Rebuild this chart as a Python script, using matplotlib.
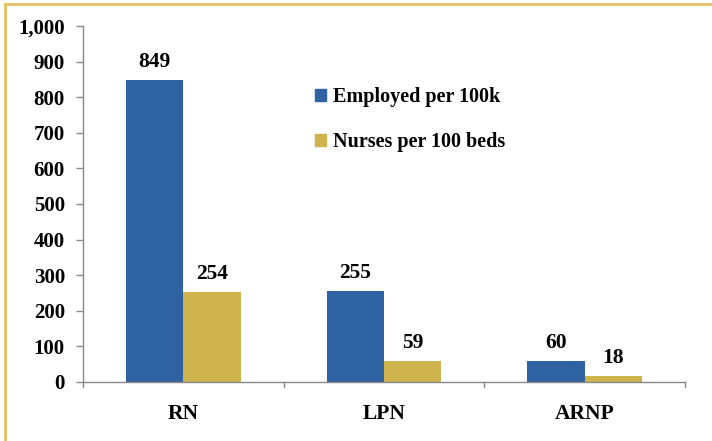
import matplotlib.pyplot as plt
from matplotlib.lines import Line2D
from matplotlib.patches import Patch
import numpy as np

categories = ['RN', 'LPN', 'ARNP']
employed = [849, 255, 60]
nurses_beds = [254, 59, 18]
series_names = ['Employed per 100k', 'Nurses per 100 beds']
yticks = [0, 100, 200, 300, 400, 500, 600, 700, 800, 900, 1000]

blue = '#2E62A3'
gold = '#CFB34C'

plt.rcParams['font.family'] = ['Liberation Serif', 'DejaVu Serif']
plt.rcParams['font.weight'] = 'bold'

fig = plt.figure(figsize=(7.12, 4.41), dpi=100)
ax = fig.add_axes([0.1166, 0.134, 0.8454, 0.807])

x = np.arange(len(categories))
w = 0.285
b1 = ax.bar(x - w / 2, employed, w, color=blue)
b2 = ax.bar(x + w / 2, nurses_beds, w, color=gold)

for bars, vals in [(b1, employed), (b2, nurses_beds)]:
    for r, v in zip(bars, vals):
        ax.text(r.get_x() + r.get_width() / 2, v + 22, str(v), ha='center', va='bottom',
                fontsize=15.5, fontweight='bold')

ax.set_xlim(-0.5, 2.5)
ax.set_ylim(0, 1000)
ax.set_yticks(yticks)
ax.set_yticklabels(['{:,}'.format(t) for t in yticks], fontsize=15, fontweight='bold')
ax.set_xticks(x)
ax.set_xticklabels(categories, fontsize=15.5, fontweight='bold')
ax.tick_params(axis='x', length=0, pad=16)
ax.tick_params(axis='y', length=5, color='#888888', width=1, pad=8)

# category boundary ticks on x axis
for b in [-0.5, 0.5, 1.5, 2.5]:
    ax.plot([b, b], [0, -15], color='#888888', lw=1, clip_on=False)

for s in ['top', 'right']:
    ax.spines[s].set_visible(False)
for s in ['left', 'bottom']:
    ax.spines[s].set_color('#888888')
    ax.spines[s].set_linewidth(1)

handles = [Patch(color=blue), Patch(color=gold)]
ax.legend(handles, series_names, loc='upper left', bbox_to_anchor=(0.355, 0.88),
          frameon=False, handlelength=0.55, handleheight=0.55, handletextpad=0.35,
          labelspacing=1.25, prop={'size': 14.5, 'weight': 'bold'})

# gold frame lines (top and left edges)
border = '#E8C060'
fig.add_artist(Line2D([5 / 712, 1], [1 - 4 / 441, 1 - 4 / 441], transform=fig.transFigure,
                      color=border, lw=2))
fig.add_artist(Line2D([5 / 712, 5 / 712], [0, 1 - 4 / 441], transform=fig.transFigure,
                      color=border, lw=2))

fig.savefig('out.png', dpi=100)
